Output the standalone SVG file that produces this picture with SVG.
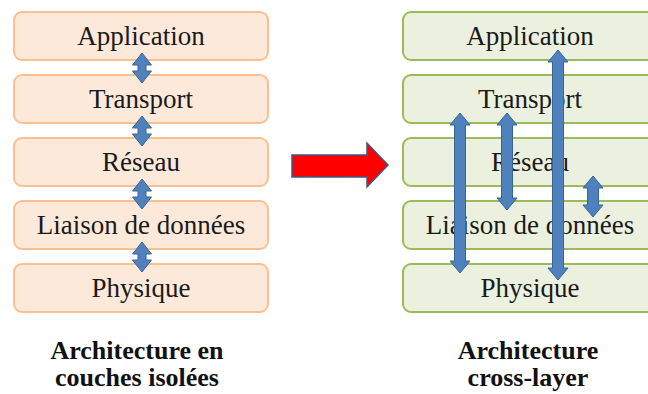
<svg xmlns="http://www.w3.org/2000/svg" width="648" height="394" viewBox="0 0 648 394">
<style>
.bl{fill:#fde9d9;stroke:#fac090;stroke-width:2}
.br{fill:#ebf1de;stroke:#9bbb59;stroke-width:2}
.t{font-family:"Liberation Serif",serif;font-size:27px;fill:#1a1a1a;text-anchor:middle}
.c{font-family:"Liberation Serif",serif;font-size:26px;font-weight:bold;fill:#111;text-anchor:middle}
.a{fill:#4f81bd;stroke:#3a6496;stroke-width:1}
</style>
<rect width="648" height="394" fill="#fff"/>
<g id="left-stack">
<g id="l-app"><rect class="bl" x="14" y="12" width="254" height="48" rx="8"/><text class="t" x="141" y="45">Application</text></g>
<g id="l-trans"><rect class="bl" x="14" y="75" width="254" height="48" rx="8"/><text class="t" x="141" y="108">Transport</text></g>
<g id="l-res"><rect class="bl" x="14" y="138" width="254" height="48" rx="8"/><text class="t" x="141" y="171">Réseau</text></g>
<g id="l-liai"><rect class="bl" x="14" y="201" width="254" height="48" rx="8"/><text class="t" x="141" y="234">Liaison de données</text></g>
<g id="l-phys"><rect class="bl" x="14" y="264" width="254" height="48" rx="8"/><text class="t" x="141" y="297">Physique</text></g>
</g>
<g id="right-stack">
<g id="r-app"><rect class="br" x="403" y="12" width="254" height="48" rx="8"/><text class="t" x="530" y="45">Application</text></g>
<g id="r-trans"><rect class="br" x="403" y="75" width="254" height="48" rx="8"/><text class="t" x="530" y="108">Transport</text></g>
<g id="r-res"><rect class="br" x="403" y="138" width="254" height="48" rx="8"/><text class="t" x="530" y="171">Réseau</text></g>
<g id="r-liai"><rect class="br" x="403" y="201" width="254" height="48" rx="8"/><text class="t" x="530" y="234">Liaison de données</text></g>
<g id="r-phys"><rect class="br" x="403" y="264" width="254" height="48" rx="8"/><text class="t" x="530" y="297">Physique</text></g>
</g>
<g id="connectors">
<path class="a" d="M142,53 L151.5,65 L146,65 L146,71 L151.5,71 L142,83 L132.5,71 L138,71 L138,65 L132.5,65 Z"/>
<path class="a" d="M142,116 L151.5,128 L146,128 L146,134 L151.5,134 L142,146 L132.5,134 L138,134 L138,128 L132.5,128 Z"/>
<path class="a" d="M142,179 L151.5,191 L146,191 L146,197 L151.5,197 L142,209 L132.5,197 L138,197 L138,191 L132.5,191 Z"/>
<path class="a" d="M142,242 L151.5,254 L146,254 L146,260 L151.5,260 L142,272 L132.5,260 L138,260 L138,254 L132.5,254 Z"/>
<path class="a" d="M460,113 L470,125 L465.5,125 L465.5,261 L470,261 L460,273 L450,261 L454.5,261 L454.5,125 L450,125 Z"/>
<path class="a" d="M507,113 L517,125 L512.5,125 L512.5,198 L517,198 L507,210 L497,198 L501.5,198 L501.5,125 L497,125 Z"/>
<path class="a" d="M558,50 L568,62 L563.5,62 L563.5,268 L568,268 L558,280 L548,268 L552.5,268 L552.5,62 L548,62 Z"/>
<path class="a" d="M593,176 L603,188 L598.5,188 L598.5,205 L603,205 L593,217 L583,205 L587.5,205 L587.5,188 L583,188 Z"/>
</g>
<g id="transition-arrow">
<path d="M292,155 L367,155 L367,143 L388,165 L367,187 L367,177 L292,177 Z" fill="#ff0000" stroke="#3a5a86" stroke-width="1.5"/>
</g>
<g id="captions">
<text class="c" x="137" y="359">Architecture en</text>
<text class="c" x="137" y="386">couches isolées</text>
<text class="c" x="528" y="359">Architecture</text>
<text class="c" x="528" y="386">cross-layer</text>
</g>
</svg>
